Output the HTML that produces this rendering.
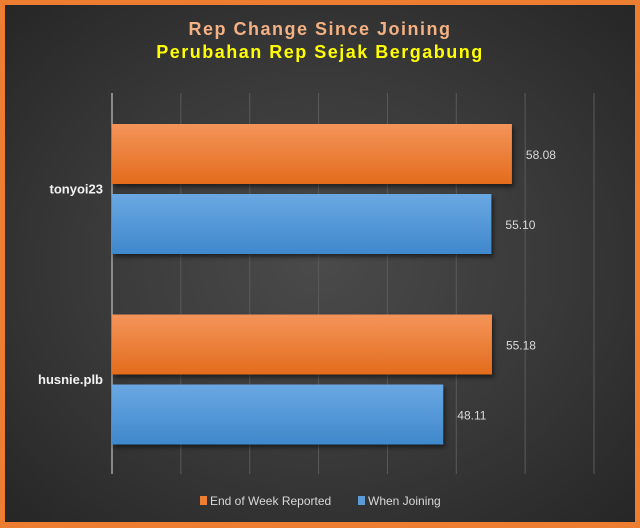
<!DOCTYPE html>
<html><head><meta charset="utf-8"><style>
body{margin:0;width:640px;height:528px;overflow:hidden;background:#ED7D31;font-family:"Liberation Sans",sans-serif;}
#frame{position:absolute;left:5px;top:5px;width:630px;height:517px;background:radial-gradient(ellipse at 50% 50%,#4a4a4a 0%,#3a3a3a 50%,#262626 100%);}
</style></head><body>
<div id="frame"></div>
<svg id="chart" width="640" height="528" style="position:absolute;left:0;top:0">
<text x="320" y="35" text-anchor="middle" font-size="18" font-weight="bold" letter-spacing="1.5" fill="#F4B183">Rep Change Since Joining</text>
<text x="320" y="58" text-anchor="middle" font-size="18" font-weight="bold" letter-spacing="1.5" fill="#FFFF00">Perubahan Rep Sejak Bergabung</text>
<g id="grid"></g><g id="bars"></g>
<g>
<rect x="200" y="496" width="7" height="9" fill="#ED7D31"/>
<text x="210" y="505" font-size="12" fill="#d9d9d9">End of Week Reported</text>
<rect x="358" y="496" width="7" height="9" fill="#5B9BD5"/>
<text x="368" y="505" font-size="12" fill="#d9d9d9">When Joining</text>
</g>
</svg>
<script>
const categories=["tonyoi23","husnie.plb"];
const endOfWeek=[58.08,55.18];
const whenJoining=[55.10,48.11];
const ticks=[0,10,20,30,40,50,60,70];
const ns="http://www.w3.org/2000/svg";
const x0=112,x1=594,xMax=70;
const xs=v=>x0+(x1-x0)*v/xMax;
const yTop=93,yBot=474,band=(yBot-yTop)/categories.length;
function mk(t,a,p){const e=document.createElementNS(ns,t);for(const k in a)e.setAttribute(k,a[k]);p.appendChild(e);return e;}
const defs=mk("defs",{},document.getElementById("chart"));
defs.innerHTML='<linearGradient id="go" x1="0" y1="0" x2="0" y2="1"><stop offset="0" stop-color="#F4945A"/><stop offset="1" stop-color="#E36C1C"/></linearGradient><linearGradient id="gb" x1="0" y1="0" x2="0" y2="1"><stop offset="0" stop-color="#6AA8E2"/><stop offset="1" stop-color="#3F88CC"/></linearGradient>';
const g=document.getElementById("grid"),b=document.getElementById("bars");
ticks.forEach((t,i)=>{const l=mk("line",{x1:xs(t),x2:xs(t),y1:yTop,y2:yBot,stroke:i==0?"#a6a6a6":"#5a5a5a","stroke-width":i==0?1.5:1},g);

});
categories.forEach((c,i)=>{
 const yb=yTop+band*i;
 const lab=mk("text",{x:103,y:yb+band/2+5,"text-anchor":"end","font-size":13,"font-weight":"bold",fill:"#f2f2f2"},b);lab.textContent=c;
 
 
 [[endOfWeek[i],"url(#go)",31],[whenJoining[i],"url(#gb)",101]].forEach(([v,f,off],k)=>{
  const r=mk("rect",{x:x0,y:yb+off,width:xs(v)-x0,height:60,fill:f,style:"filter:drop-shadow(2px 3px 2px rgba(0,0,0,0.5))"},b);
  
  
  const t=mk("text",{x:xs(v)+14,y:yb+off+35,"font-size":12,fill:"#d9d9d9"},b);t.textContent=v.toFixed(2);
  
  
 });
});
</script>
</body></html>
